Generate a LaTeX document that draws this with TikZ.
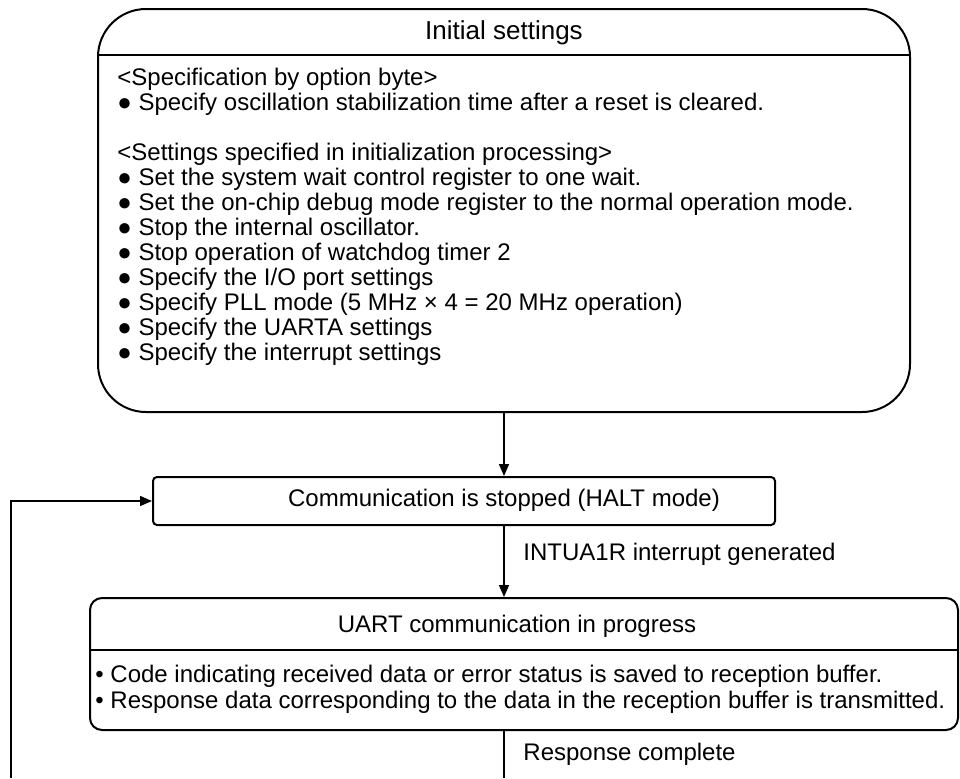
\documentclass[tikz,border=0pt]{standalone}
\usepackage{fontspec}
\setmainfont{Liberation Sans}
\usetikzlibrary{arrows.meta,positioning}

\begin{document}
\begin{tikzpicture}[x=0.5pt, y=-0.5pt, >={Triangle[length=6pt, width=5pt]},
		font=\fontsize{12pt}{12.5pt}\selectfont,
		box/.style={draw, line width=1pt, inner sep=0pt},
		flow/.style={line width=0.8pt}]
	\useasboundingbox (0,0) rectangle (960,778);

	% 初始设置
	\node[box, rounded corners=24pt, minimum width=406pt, minimum height=201.5pt] (init) at (504,210.5) {};
	\draw[line width=1pt] (init.west |- 0,55) -- (init.east |- 0,55);
	\node[font=\fontsize{13pt}{14pt}\selectfont] (initTitle) at (504,33) {Initial settings};
	\node[anchor=north west, inner sep=0pt, align=left] (initBody) at (117,68) {%
		<Specification by option byte>\\
		● Specify oscillation stabilization time after a reset is cleared.\\[12.5pt]
		<Settings specified in initialization processing>\\
		● Set the system wait control register to one wait.\\
		● Set the on-chip debug mode register to the normal operation mode.\\
		● Stop the internal oscillator.\\
		● Stop operation of watchdog timer 2\\
		● Specify the I/O port settings\\
		● Specify PLL mode (5 MHz × 4 = 20 MHz operation)\\
		● Specify the UARTA settings\\
		● Specify the interrupt settings};

	% 通信停止
	\node[box, rounded corners=2pt, minimum width=311pt, minimum height=24pt] (halt) at (464,501) {};
	\node (haltText) at (504,500) {Communication is stopped (HALT mode)};

	% UART 通信
	\node[box, rounded corners=6pt, minimum width=434pt, minimum height=66pt] (uart) at (524,664) {};
	\draw[line width=1pt] (uart.west |- 0,650) -- (uart.east |- 0,650);
	\node (uartTitle) at (517,626) {UART communication in progress};
	\node[anchor=north west, inner sep=0pt, align=left, font=\fontsize{12pt}{13pt}\selectfont] (uartBody) at (95,665) {%
		• Code indicating received data or error status is saved to reception buffer.\\
		• Response data corresponding to the data in the reception buffer is transmitted.};

	% 连线
	\coordinate (loopR) at (504,778);
	\coordinate (loopL) at (11,778);
	\draw[flow, ->] (init.south) -- (init.south |- halt.north);
	\draw[flow, ->] (init.south |- halt.south) -- (init.south |- uart.north)
		node[pos=0.4, right=6pt] (intLabel) {INTUA1R interrupt generated};
	\draw[flow] (init.south |- uart.south) -- (loopR)
		node[pos=0.5, right=6pt] (doneLabel) {Response complete};
	\draw[flow, ->] (loopL) |- (halt.west);
\end{tikzpicture}
\end{document}
